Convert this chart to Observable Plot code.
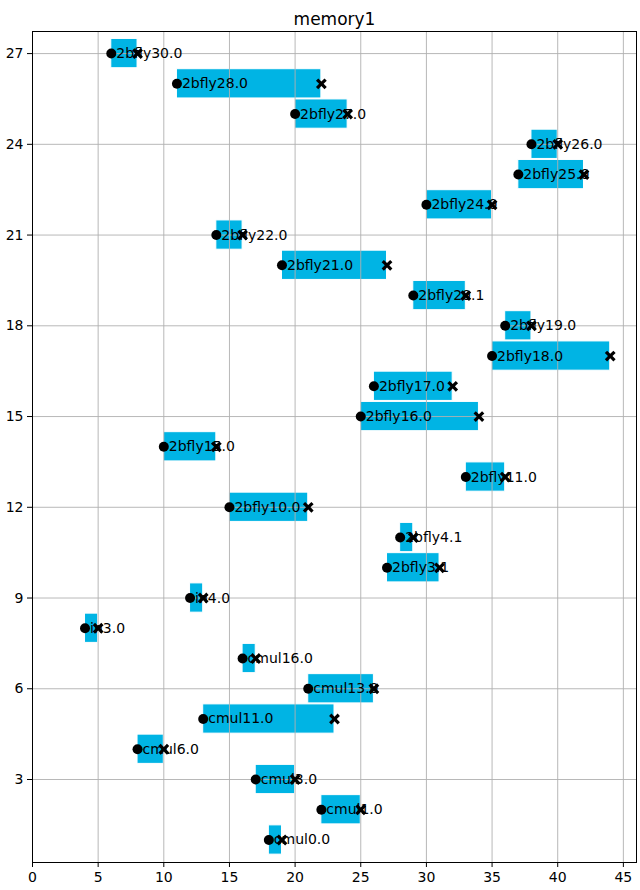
<!DOCTYPE html>
<html>
<head>
<meta charset="utf-8">
<script src="https://cdn.jsdelivr.net/npm/d3@7"></script>
<script src="https://cdn.jsdelivr.net/npm/@observablehq/plot@0.6"></script>
<style>
  html, body { margin: 0; padding: 0; background: #fff; }
  svg { font-family: "DejaVu Sans", sans-serif; }
</style>
</head>
<body>
<div id="chart"></div>
<script>
const title = "memory1";
const rows   = [27, 26, 25, 24, 23, 22, 21, 20, 19, 18, 17, 16, 15, 14, 13, 12, 11, 10, 9, 8, 7, 6, 5, 4, 3, 2, 1];
const starts = [6, 11, 20, 38, 37, 30, 14, 19, 29, 36, 35, 26, 25, 10, 33, 15, 28, 27, 12, 4, 16, 21, 13, 8, 17, 22, 18];
const ends   = [8, 22, 24, 40, 42, 35, 16, 27, 33, 38, 44, 32, 34, 14, 36, 21, 29, 31, 13, 5, 17, 26, 23, 10, 20, 25, 19];
const labels = ["2bfly30.0", "2bfly28.0", "2bfly27.0", "2bfly26.0", "2bfly25.0", "2bfly24.0", "2bfly22.0",
                "2bfly21.0", "2bfly20.1", "2bfly19.0", "2bfly18.0", "2bfly17.0", "2bfly16.0", "2bfly15.0",
                "2bfly11.0", "2bfly10.0", "2bfly4.1", "2bfly3.1", "in4.0", "in3.0", "cmul16.0", "cmul13.0",
                "cmul11.0", "cmul6.0", "cmul3.0", "cmul1.0", "cmul0.0"];
const xTicks = [0, 5, 10, 15, 20, 25, 30, 35, 40, 45];
const yTicks = [3, 6, 9, 12, 15, 18, 21, 24, 27];

const data = rows.map((r, i) => ({row: r, start: starts[i], end: ends[i], label: labels[i]}));

// filled "X" marker like matplotlib's 'X'
const filledX = {
  draw(context, size) {
    const r = Math.sqrt(size / Math.PI);
    const w = r * 0.42;
    const pts = [
      [0, -w], [r - w, -r], [r, -r + w], [w, 0], [r, r - w], [r - w, r],
      [0, w], [-r + w, r], [-r, r - w], [-w, 0], [-r, -r + w], [-r + w, -r]
    ];
    context.moveTo(pts[0][0], pts[0][1]);
    for (let k = 1; k < pts.length; k++) context.lineTo(pts[k][0], pts[k][1]);
    context.closePath();
  }
};

const chart = Plot.plot({
  width: 640,
  height: 890,
  marginLeft: 32,
  marginRight: 4,
  marginTop: 31,
  marginBottom: 28,
  style: {fontSize: "14px", fontFamily: "DejaVu Sans, sans-serif", color: "black", background: "white"},
  x: {domain: [0, 46], ticks: xTicks, label: null},
  y: {domain: [0.256, 27.73], ticks: yTicks, label: null},
  marks: [
    Plot.rect(data, {
      x1: "start", x2: "end",
      y1: d => d.row - 0.5, y2: d => d.row + 0.5,
      fill: "#00b4e4", stroke: "white", strokeWidth: 1,
      insetTop: 0.5, insetBottom: 0.5
    }),
    Plot.gridX(xTicks, {stroke: "#b0b0b0", strokeOpacity: 1, strokeWidth: 0.9}),
    Plot.gridY(yTicks, {stroke: "#b0b0b0", strokeOpacity: 1, strokeWidth: 0.9}),
    Plot.dot(data, {x: "start", y: "row", r: 5, fill: "black", stroke: null, symbol: "circle"}),
    Plot.text(data, {x: "start", y: "row", text: "label", textAnchor: "start", dx: 5, fill: "black", fontSize: 14}),
    Plot.dot(data, {x: "end", y: "row", r: 5.4, fill: "black", stroke: null, symbol: filledX}),
    Plot.frame({stroke: "black", strokeWidth: 1}),
    Plot.axisX(xTicks, {tickSize: 5, tickPadding: 5, fontSize: 14, label: null}),
    Plot.axisY(yTicks, {tickSize: 5, tickPadding: 4, fontSize: 14, label: null}),
    Plot.text([title], {frameAnchor: "top", dy: -19, fontSize: 17, fill: "black"})
  ]
});
document.getElementById("chart").appendChild(chart);
</script>
</body>
</html>
